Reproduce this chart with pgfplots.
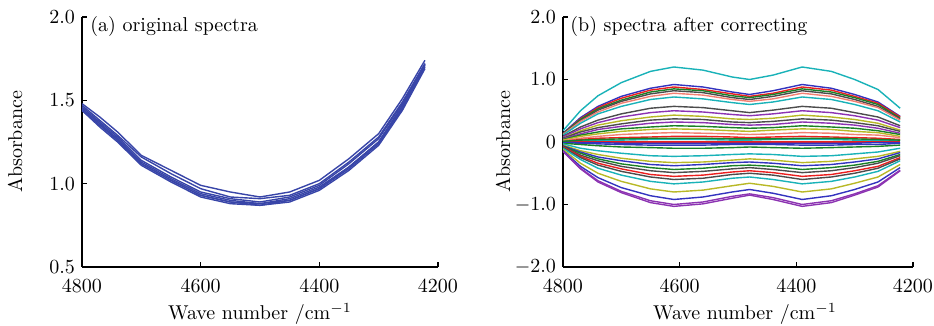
\documentclass[border=0pt]{standalone}
\usepackage{pgfplots}
\usepackage{pgfplotstable}
\pgfplotsset{compat=1.18}
\definecolor{mb}{rgb}{0.22,0.27,0.66}
\definecolor{cB}{rgb}{0.2,0.2,0.75}
\definecolor{cG}{rgb}{0.1,0.5,0.15}
\definecolor{cR}{rgb}{0.92,0.12,0.12}
\definecolor{cC}{rgb}{0.1,0.7,0.72}
\definecolor{cM}{rgb}{0.55,0.2,0.7}
\definecolor{cY}{rgb}{0.72,0.72,0.15}
\definecolor{cK}{rgb}{0.3,0.3,0.3}
\definecolor{cL}{rgb}{0.95,0.5,0.45}

\pgfplotstableread{
name a b c d e f g h i j k l m n
x 4800 4770 4740 4700 4650 4600 4550 4500 4450 4400 4350 4300 4260 4222
l1 1.48 1.40 1.31 1.17 1.08 0.99 0.95 0.92 0.95 1.02 1.15 1.30 1.51 1.74
l2 1.47 1.38 1.29 1.16 1.06 0.97 0.92 0.91 0.93 1.00 1.13 1.28 1.49 1.72
l3 1.46 1.37 1.28 1.14 1.04 0.95 0.91 0.89 0.92 0.99 1.12 1.27 1.48 1.72
l4 1.45 1.36 1.27 1.13 1.03 0.94 0.90 0.88 0.91 0.98 1.10 1.25 1.46 1.71
l5 1.44 1.35 1.26 1.12 1.02 0.93 0.89 0.88 0.90 0.97 1.09 1.24 1.45 1.70
l6 1.45 1.36 1.26 1.12 1.02 0.93 0.89 0.87 0.90 0.97 1.10 1.25 1.47 1.71
l7 1.44 1.34 1.25 1.11 1.01 0.92 0.88 0.87 0.89 0.96 1.08 1.23 1.44 1.69
}\rawA
\pgfplotstabletranspose[colnames from=name]\specA{\rawA}

\pgfplotstableread{
name a b c d e f g h i j k l m n o
x 4800 4770 4740 4700 4650 4610 4560 4510 4480 4440 4390 4340 4300 4260 4222
r01 0.18 0.50 0.74 0.95 1.13 1.20 1.15 1.04 1.00 1.07 1.20 1.13 1.00 0.84 0.54
r02 0.14 0.39 0.57 0.73 0.86 0.92 0.88 0.80 0.76 0.82 0.92 0.86 0.76 0.64 0.41
r03 0.13 0.37 0.55 0.70 0.83 0.88 0.84 0.77 0.73 0.78 0.88 0.83 0.73 0.62 0.40
r04 0.13 0.36 0.53 0.67 0.80 0.85 0.82 0.74 0.71 0.76 0.85 0.80 0.71 0.60 0.38
r05 0.12 0.34 0.51 0.65 0.77 0.82 0.79 0.71 0.68 0.73 0.82 0.77 0.68 0.57 0.37
r06 0.12 0.33 0.48 0.62 0.73 0.78 0.75 0.68 0.65 0.69 0.78 0.73 0.65 0.55 0.35
r07 0.11 0.30 0.45 0.57 0.68 0.72 0.69 0.63 0.60 0.64 0.72 0.68 0.60 0.50 0.32
r08 0.09 0.24 0.35 0.45 0.54 0.57 0.55 0.50 0.47 0.51 0.57 0.54 0.47 0.40 0.26
r09 0.08 0.21 0.31 0.40 0.47 0.50 0.48 0.44 0.42 0.45 0.50 0.47 0.42 0.35 0.23
r10 0.06 0.18 0.27 0.34 0.40 0.43 0.41 0.37 0.36 0.38 0.43 0.40 0.36 0.30 0.19
r11 0.06 0.16 0.23 0.29 0.35 0.37 0.36 0.32 0.31 0.33 0.37 0.35 0.31 0.26 0.17
r12 0.05 0.13 0.20 0.25 0.30 0.32 0.31 0.28 0.27 0.28 0.32 0.30 0.27 0.22 0.14
r13 0.04 0.11 0.16 0.21 0.24 0.26 0.25 0.23 0.22 0.23 0.26 0.24 0.22 0.18 0.12
r14 0.03 0.09 0.13 0.17 0.20 0.21 0.20 0.18 0.17 0.19 0.21 0.20 0.17 0.15 0.09
r15 0.02 0.06 0.09 0.12 0.14 0.15 0.14 0.13 0.12 0.13 0.15 0.14 0.12 0.11 0.07
r16 0.01 0.04 0.06 0.07 0.08 0.09 0.09 0.08 0.07 0.08 0.09 0.08 0.07 0.06 0.04
r17 0.01 0.02 0.02 0.03 0.04 0.04 0.04 0.03 0.03 0.04 0.04 0.04 0.03 0.03 0.02
r18 0.00 0.00 0.00 0.00 0.00 0.00 0.00 0.00 0.00 0.00 0.00 0.00 0.00 0.00 0.00
r19 -0.01 -0.02 -0.03 -0.04 -0.05 -0.05 -0.05 -0.04 -0.04 -0.04 -0.05 -0.05 -0.04 -0.04 -0.02
r20 -0.02 -0.04 -0.06 -0.08 -0.09 -0.10 -0.10 -0.09 -0.08 -0.09 -0.10 -0.09 -0.08 -0.07 -0.05
r21 -0.03 -0.10 -0.14 -0.18 -0.22 -0.23 -0.22 -0.20 -0.19 -0.20 -0.23 -0.22 -0.19 -0.16 -0.10
r22 -0.05 -0.14 -0.20 -0.26 -0.31 -0.33 -0.32 -0.29 -0.27 -0.29 -0.33 -0.31 -0.27 -0.23 -0.15
r23 -0.06 -0.16 -0.24 -0.30 -0.36 -0.38 -0.36 -0.33 -0.32 -0.34 -0.38 -0.36 -0.32 -0.27 -0.17
r24 -0.07 -0.18 -0.27 -0.35 -0.41 -0.44 -0.42 -0.38 -0.37 -0.39 -0.44 -0.41 -0.37 -0.31 -0.20
r25 -0.07 -0.21 -0.30 -0.39 -0.46 -0.49 -0.47 -0.43 -0.41 -0.44 -0.49 -0.46 -0.41 -0.34 -0.22
r26 -0.08 -0.23 -0.34 -0.43 -0.52 -0.55 -0.53 -0.48 -0.46 -0.49 -0.55 -0.52 -0.46 -0.39 -0.25
r27 -0.09 -0.25 -0.37 -0.47 -0.56 -0.60 -0.58 -0.52 -0.50 -0.53 -0.60 -0.56 -0.50 -0.42 -0.27
r28 -0.10 -0.28 -0.42 -0.53 -0.63 -0.67 -0.64 -0.58 -0.56 -0.60 -0.67 -0.63 -0.56 -0.47 -0.30
r29 -0.12 -0.34 -0.50 -0.63 -0.75 -0.80 -0.77 -0.70 -0.66 -0.71 -0.80 -0.75 -0.66 -0.56 -0.36
r30 -0.14 -0.39 -0.57 -0.73 -0.86 -0.92 -0.88 -0.80 -0.76 -0.82 -0.92 -0.86 -0.76 -0.64 -0.41
r31 -0.15 -0.42 -0.62 -0.79 -0.94 -1.00 -0.96 -0.87 -0.83 -0.89 -1.00 -0.94 -0.83 -0.70 -0.45
r32 -0.15 -0.43 -0.64 -0.81 -0.97 -1.03 -0.99 -0.90 -0.85 -0.92 -1.03 -0.97 -0.85 -0.72 -0.46
r33 0.00 -0.01 -0.01 -0.02 -0.02 -0.02 -0.02 -0.02 -0.02 -0.02 -0.02 -0.02 -0.02 -0.01 -0.01
r34 0.01 0.03 0.04 0.05 0.06 0.06 0.06 0.05 0.05 0.05 0.06 0.06 0.05 0.04 0.03
}\rawB
\pgfplotstabletranspose[colnames from=name]\specB{\rawB}

\pgfplotsset{
  myax/.style={
    scale only axis, height=125pt,
    axis x line*=bottom, axis y line*=left,
    x dir=reverse, xmin=4200, xmax=4800,
    xtick={4200,4400,4600,4800},
    tick align=inside, major tick length=2.5pt,
    x tick label style={/pgf/number format/1000 sep={}, yshift=-3pt},
    xlabel={Wave number /cm$^{-1}$},
    ylabel={Absorbance},
    tick style={black, line width=0.6pt},
    axis line style={black, line width=0.6pt},
    every axis plot/.append style={line width=0.7pt, no marks},
  }
}

\begin{document}
\begin{tikzpicture}
\begin{axis}[myax, width=178pt, at={(0pt,0pt)}, anchor=south west,
  ymin=0.5, ymax=2.0, ytick={0.5,1,1.5,2}, yticklabels={0.5,1.0,1.5,2.0},
  every axis x label/.style={at={(axis description cs:0.5,-0.212)},anchor=base},
  every axis y label/.style={at={(axis description cs:-0.188,0.5)},rotate=90,anchor=center}]
\addplot[mb] table[x=x,y=l1]{\specA};
\addplot[mb] table[x=x,y=l2]{\specA};
\addplot[mb] table[x=x,y=l3]{\specA};
\addplot[mb] table[x=x,y=l4]{\specA};
\addplot[mb] table[x=x,y=l5]{\specA};
\addplot[mb] table[x=x,y=l6]{\specA};
\addplot[mb] table[x=x,y=l7]{\specA};
\node[anchor=base west, inner sep=0pt] at (axis description cs:0.0225,0.94) {(a) original spectra};
\end{axis}
\begin{axis}[myax, width=175pt, at={(240.5pt,0pt)}, anchor=south west,
  ymin=-2, ymax=2, ytick={-2,-1,0,1,2}, yticklabels={$-2.0$,$-1.0$,0,1.0,2.0},
  every axis x label/.style={at={(axis description cs:0.52,-0.212)},anchor=base},
  every axis y label/.style={at={(axis description cs:-0.171,0.5)},rotate=90,anchor=center}]
\addplot[cC] table[x=x,y=r01]{\specB};
\addplot[cB] table[x=x,y=r02]{\specB};
\addplot[cR] table[x=x,y=r03]{\specB};
\addplot[cG] table[x=x,y=r04]{\specB};
\addplot[cK] table[x=x,y=r05]{\specB};
\addplot[cL] table[x=x,y=r06]{\specB};
\addplot[cC] table[x=x,y=r07]{\specB};
\addplot[cK] table[x=x,y=r08]{\specB};
\addplot[cM] table[x=x,y=r09]{\specB};
\addplot[cY] table[x=x,y=r10]{\specB};
\addplot[cK] table[x=x,y=r11]{\specB};
\addplot[cM] table[x=x,y=r12]{\specB};
\addplot[cG] table[x=x,y=r13]{\specB};
\addplot[cY] table[x=x,y=r14]{\specB};
\addplot[cL] table[x=x,y=r15]{\specB};
\addplot[cR] table[x=x,y=r16]{\specB};
\addplot[cC] table[x=x,y=r17]{\specB};
\addplot[cR] table[x=x,y=r18]{\specB};
\addplot[cB] table[x=x,y=r19]{\specB};
\addplot[cG] table[x=x,y=r20]{\specB};
\addplot[cC] table[x=x,y=r21]{\specB};
\addplot[cY] table[x=x,y=r22]{\specB};
\addplot[cB] table[x=x,y=r23]{\specB};
\addplot[cG] table[x=x,y=r24]{\specB};
\addplot[cK] table[x=x,y=r25]{\specB};
\addplot[cR] table[x=x,y=r26]{\specB};
\addplot[cK] table[x=x,y=r27]{\specB};
\addplot[cC] table[x=x,y=r28]{\specB};
\addplot[cY] table[x=x,y=r29]{\specB};
\addplot[cB] table[x=x,y=r30]{\specB};
\addplot[cM] table[x=x,y=r31]{\specB};
\addplot[cM] table[x=x,y=r32]{\specB};
\addplot[cB] table[x=x,y=r33]{\specB};
\addplot[cG] table[x=x,y=r34]{\specB};
\node[anchor=base west, inner sep=0pt] at (axis description cs:0.02,0.94) {(b) spectra after correcting};
\end{axis}
\pgfresetboundingbox
\path[use as bounding box] (-41pt,-29.5pt) rectangle (426pt,133.5pt);
\end{tikzpicture}
\end{document}
